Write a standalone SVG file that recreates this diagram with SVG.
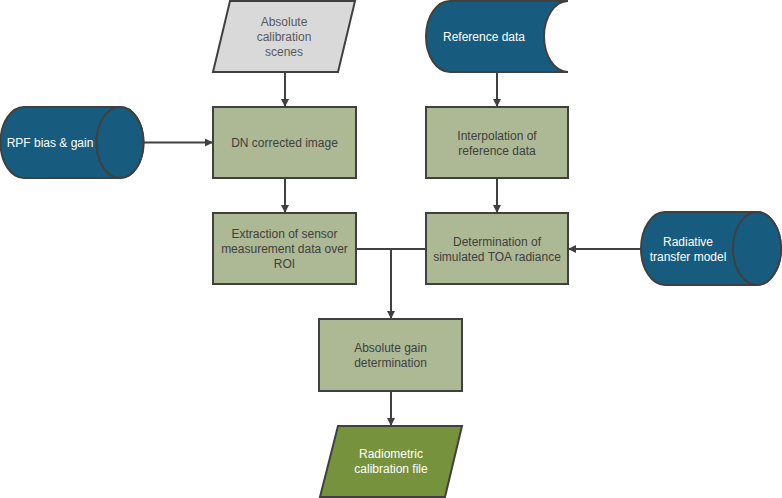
<svg xmlns="http://www.w3.org/2000/svg" width="782" height="498" viewBox="0 0 782 498">
<style>
.box{fill:#adb994;stroke:#404040;stroke-width:2}
.blue{fill:#175c7e;stroke:#404040;stroke-width:2}
.gray{fill:#d9d9d9;stroke:#404040;stroke-width:2}
.dg{fill:#76923c;stroke:#404040;stroke-width:2}
text{font-family:"Liberation Sans",Arial,sans-serif;font-size:12px;text-anchor:middle}
.dt{fill:#404040}
.lt{fill:#ffffff}
.gt{fill:#595959}
.con{fill:none;stroke:#404040;stroke-width:2}
</style>
<defs>
<marker id="arr" markerWidth="8" markerHeight="8" refX="7" refY="4" orient="auto" markerUnits="userSpaceOnUse">
<path d="M0,0 L8,4 L0,8 Z" fill="#404040"/>
</marker>
</defs>
<g id="connectors">
<line class="con" x1="285" y1="72" x2="285" y2="106" marker-end="url(#arr)"/>
<line class="con" x1="497" y1="72" x2="497" y2="106" marker-end="url(#arr)"/>
<line class="con" x1="143" y1="142.5" x2="212" y2="142.5" marker-end="url(#arr)"/>
<line class="con" x1="285" y1="178" x2="285" y2="212" marker-end="url(#arr)"/>
<line class="con" x1="497" y1="178" x2="497" y2="212" marker-end="url(#arr)"/>
<line class="con" x1="641" y1="249" x2="569" y2="249" marker-end="url(#arr)"/>
<line class="con" x1="356" y1="249" x2="426" y2="249"/>
<line class="con" x1="391" y1="249" x2="391" y2="318" marker-end="url(#arr)"/>
<line class="con" x1="391" y1="391" x2="391" y2="425" marker-end="url(#arr)"/>
</g>
<g id="scenes">
<polygon class="gray" points="230,1 355,1 338,72 213,72"/>
<text class="gt" x="284" y="26">Absolute</text>
<text class="gt" x="284" y="41">calibration</text>
<text class="gt" x="284" y="56">scenes</text>
</g>
<g id="refdata">
<path class="blue" d="M450,1 L568,1 A24,35.5 0 0 0 568,72 L450,72 A24,35.5 0 0 1 450,1 Z"/>
<text class="lt" x="484" y="41">Reference data</text>
</g>
<g id="rpf">
<path class="blue" d="M24,107 L120,107 A23.5,35.5 0 0 1 120,178 L24,178 A23.5,35.5 0 0 1 24,107 Z"/>
<ellipse class="blue" cx="120" cy="142.5" rx="23.5" ry="35.5"/>
<text class="lt" x="50" y="147">RPF bias &amp; gain</text>
</g>
<g id="dn">
<rect class="box" x="213" y="107" width="143" height="71"/>
<text class="dt" x="284.5" y="147">DN corrected image</text>
</g>
<g id="interp">
<rect class="box" x="426" y="107" width="142" height="71"/>
<text class="dt" x="497" y="140">Interpolation of</text>
<text class="dt" x="497" y="155">reference data</text>
</g>
<g id="extract">
<rect class="box" x="213" y="213" width="143" height="71"/>
<text class="dt" x="284.5" y="238">Extraction of sensor</text>
<text class="dt" x="284.5" y="253">measurement data over</text>
<text class="dt" x="284.5" y="268">ROI</text>
</g>
<g id="toa">
<rect class="box" x="426" y="213" width="142" height="71"/>
<text class="dt" x="497" y="246">Determination of</text>
<text class="dt" x="497" y="261">simulated TOA radiance</text>
</g>
<g id="rtm">
<path class="blue" d="M665,212 L757,212 A24,36.5 0 0 1 757,285 L665,285 A24,36.5 0 0 1 665,212 Z"/>
<ellipse class="blue" cx="757" cy="248.5" rx="24" ry="36.5"/>
<text class="lt" x="688" y="246">Radiative</text>
<text class="lt" x="688" y="261">transfer model</text>
</g>
<g id="gain">
<rect class="box" x="319" y="319" width="143" height="72"/>
<text class="dt" x="390.5" y="352">Absolute gain</text>
<text class="dt" x="390.5" y="367">determination</text>
</g>
<g id="calfile">
<polygon class="dg" points="338,426 462,426 445,497 320,497"/>
<text class="lt" x="391" y="458">Radiometric</text>
<text class="lt" x="391" y="473">calibration file</text>
</g>
</svg>
